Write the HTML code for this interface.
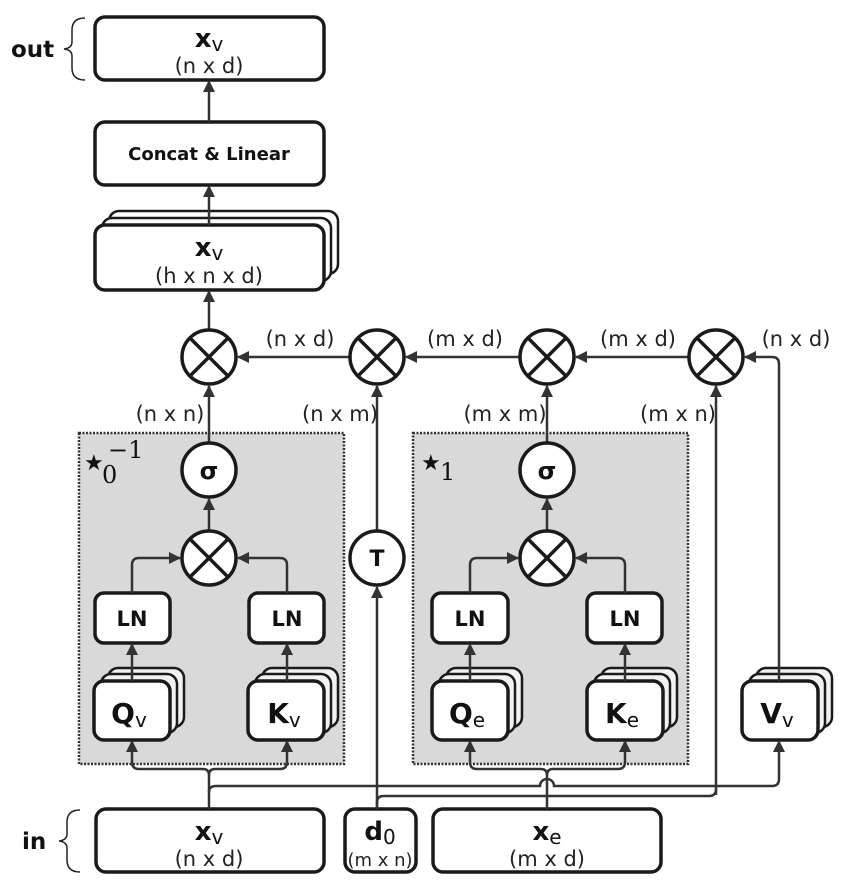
<!DOCTYPE html>
<html><head><meta charset="utf-8"><style>
html,body{margin:0;padding:0;background:#fff;}
svg{display:block;}
text{font-family:"DejaVu Sans","Liberation Sans",sans-serif;fill:#111;}
.b{font-weight:bold;}
.dim{fill:#222;}
.s{font-weight:normal;}
</style></head><body>
<svg width="847" height="887" viewBox="0 0 847 887" xmlns="http://www.w3.org/2000/svg">
<defs>
<marker id="a" markerWidth="12" markerHeight="12" refX="11" refY="6" orient="auto" markerUnits="userSpaceOnUse">
<path d="M0,0 L12,6 L0,12 Z" fill="#333"/>
</marker>
</defs>
<g fill="none" stroke="#1a1a1a" stroke-width="3.5">
<rect x="79" y="433" width="265" height="331" fill="#d9d9d9" stroke="#333" stroke-width="2.5" stroke-dasharray="2,1.5"/>
<rect x="413" y="433" width="275" height="331" fill="#d9d9d9" stroke="#333" stroke-width="2.5" stroke-dasharray="2,1.5"/>
<rect x="95" y="17" width="229" height="63" rx="10" fill="#fff"/>
<rect x="95" y="122" width="229" height="63" rx="10" fill="#fff"/>
<rect x="109" y="211" width="229" height="63" rx="10" fill="#fff" stroke-width="2.5"/>
<rect x="102" y="218" width="229" height="63" rx="10" fill="#fff" stroke-width="2.5"/>
<rect x="95" y="225" width="229" height="65" rx="10" fill="#fff"/>
<rect x="95" y="593" width="75" height="50" rx="9" fill="#fff"/>
<rect x="249" y="593" width="75" height="50" rx="9" fill="#fff"/>
<rect x="432" y="593" width="76" height="50" rx="9" fill="#fff"/>
<rect x="587" y="593" width="75" height="50" rx="9" fill="#fff"/>
<g id="st">
<rect x="108" y="668" width="76" height="59" rx="10" fill="#f2f2f2" stroke-width="2.5"/>
<rect x="101" y="674" width="76" height="59" rx="10" fill="#f2f2f2" stroke-width="2.5"/>
<rect x="94" y="681" width="76" height="59" rx="10" fill="#fff"/>
</g>
<use href="#st" x="154"/>
<use href="#st" x="338"/>
<use href="#st" x="493"/>
<use href="#st" x="648"/>
<rect x="96" y="809" width="228" height="63" rx="10" fill="#fff"/>
<rect x="345" y="809" width="71" height="63" rx="10" fill="#fff"/>
<rect x="433" y="809" width="228" height="63" rx="10" fill="#fff"/>
</g>
<g fill="none" stroke="#333" stroke-width="2.5">
<line x1="209" y1="122" x2="209" y2="81" marker-end="url(#a)"/>
<line x1="209" y1="225" x2="209" y2="186" marker-end="url(#a)"/>
<line x1="209" y1="329" x2="209" y2="291" marker-end="url(#a)"/>
<line x1="349" y1="357" x2="238" y2="357" marker-end="url(#a)"/>
<line x1="519" y1="357" x2="406" y2="357" marker-end="url(#a)"/>
<line x1="688" y1="357" x2="576" y2="357" marker-end="url(#a)"/>
<path d="M779 681 V364 Q779 357 772 357 H745" marker-end="url(#a)"/>
<line x1="209" y1="442" x2="209" y2="386" marker-end="url(#a)"/>
<line x1="547" y1="442" x2="547" y2="386" marker-end="url(#a)"/>
<line x1="377" y1="530" x2="377" y2="386" marker-end="url(#a)"/>
<line x1="716" y1="795" x2="716" y2="386" marker-end="url(#a)"/>
<line x1="209" y1="530" x2="209" y2="499" marker-end="url(#a)"/>
<line x1="547" y1="530" x2="547" y2="499" marker-end="url(#a)"/>
<path d="M132 593 V565 Q132 558 139 558 H180" marker-end="url(#a)"/>
<path d="M287 593 V565 Q287 558 280 558 H238" marker-end="url(#a)"/>
<path d="M470 593 V565 Q470 558 477 558 H518" marker-end="url(#a)"/>
<path d="M625 593 V565 Q625 558 618 558 H576" marker-end="url(#a)"/>
<line x1="132" y1="681" x2="132" y2="644" marker-end="url(#a)"/>
<line x1="287" y1="681" x2="287" y2="644" marker-end="url(#a)"/>
<line x1="470" y1="681" x2="470" y2="644" marker-end="url(#a)"/>
<line x1="625" y1="681" x2="625" y2="644" marker-end="url(#a)"/>
<path d="M209 809 V775"/>
<path d="M209 775 Q209 769 203 769 H139 Q132 769 132 762 V741" marker-end="url(#a)"/>
<path d="M209 775 Q209 769 215 769 H280 Q287 769 287 762 V741" marker-end="url(#a)"/>
<path d="M209 792 Q209 786 216 786 H540 A7 7 0 0 1 554 786 H772 Q779 786 779 779 V741" marker-end="url(#a)"/>
<path d="M377 809 V802 Q377 796 384 796 H709 Q716 796 716 789"/>
<line x1="377" y1="809" x2="377" y2="587" marker-end="url(#a)"/>
<path d="M547 809 V775"/>
<path d="M547 775 Q547 769 541 769 H477 Q470 769 470 762 V741" marker-end="url(#a)"/>
<path d="M547 775 Q547 769 553 769 H618 Q625 769 625 762 V741" marker-end="url(#a)"/>
</g>
<g fill="#fff" stroke="#1a1a1a" stroke-width="3.5">
<g id="ot"><circle cx="209" cy="357" r="27"/><path d="M190 338 L228 376 M228 338 L190 376" fill="none"/></g>
<use href="#ot" x="168"/>
<use href="#ot" x="338"/>
<use href="#ot" x="507"/>
<use href="#ot" y="201"/>
<use href="#ot" x="338" y="201"/>
<circle cx="209" cy="470" r="27"/>
<circle cx="547" cy="470" r="27"/>
<circle cx="377" cy="558" r="27"/>
</g>
<g text-anchor="middle">
<text x="209" y="47" class="b" style="font-size:26px">x<tspan class="s" style="font-size:20px" dy="4">v</tspan></text>
<text x="209" y="73" class="dim" style="font-size:21px">(n x d)</text>
<text x="209" y="160" class="b" style="font-size:18px">Concat &amp; Linear</text>
<text x="209" y="256" class="b" style="font-size:26px">x<tspan class="s" style="font-size:20px" dy="4">v</tspan></text>
<text x="209" y="283" class="dim" style="font-size:21px">(h x n x d)</text>
<text x="300" y="346" class="dim" style="font-size:21px">(n x d)</text>
<text x="465" y="346" class="dim" style="font-size:21px">(m x d)</text>
<text x="638" y="346" class="dim" style="font-size:21px">(m x d)</text>
<text x="796" y="346" class="dim" style="font-size:21px">(n x d)</text>
<text x="170" y="421" class="dim" style="font-size:21px">(n x n)</text>
<text x="340" y="421" class="dim" style="font-size:21px">(n x m)</text>
<text x="505" y="421" class="dim" style="font-size:21px">(m x m)</text>
<text x="678" y="421" class="dim" style="font-size:21px">(m x n)</text>
<text x="209" y="479" class="b" style="font-size:24px">σ</text>
<text x="547" y="479" class="b" style="font-size:24px">σ</text>
<text x="377" y="566" class="b" style="font-size:22px">T</text>
<text x="132" y="626" class="b" style="font-size:21px">LN</text>
<text x="287" y="626" class="b" style="font-size:21px">LN</text>
<text x="470" y="626" class="b" style="font-size:21px">LN</text>
<text x="625" y="626" class="b" style="font-size:21px">LN</text>
<text x="129" y="723" class="b" style="font-size:28px">Q<tspan class="s" style="font-size:20px" dy="4">v</tspan></text>
<text x="284" y="723" class="b" style="font-size:28px">K<tspan class="s" style="font-size:20px" dy="4">v</tspan></text>
<text x="467" y="723" class="b" style="font-size:28px">Q<tspan class="s" style="font-size:20px" dy="4">e</tspan></text>
<text x="622" y="723" class="b" style="font-size:28px">K<tspan class="s" style="font-size:20px" dy="4">e</tspan></text>
<text x="777" y="723" class="b" style="font-size:28px">V<tspan class="s" style="font-size:20px" dy="4">v</tspan></text>
<text x="209" y="840" class="b" style="font-size:26px">x<tspan class="s" style="font-size:20px" dy="4">v</tspan></text>
<text x="209" y="866" class="dim" style="font-size:21px">(n x d)</text>
<text x="380" y="840" class="b" style="font-size:26px">d<tspan class="s" style="font-size:20px" dy="4">0</tspan></text>
<text x="380" y="866" class="dim" style="font-size:18px">(m x n)</text>
<text x="547" y="840" class="b" style="font-size:26px">x<tspan class="s" style="font-size:20px" dy="4">e</tspan></text>
<text x="547" y="866" class="dim" style="font-size:21px">(m x d)</text>
</g>
<text x="84" y="470" style="font-size:22px;font-family:'DejaVu Sans',sans-serif">★</text>
<text x="102" y="483" style="font-size:24px;font-family:'DejaVu Serif',serif">0</text>
<text x="108" y="458" style="font-size:24px;font-family:'DejaVu Serif',serif">−1</text>
<text x="421" y="470" style="font-size:22px;font-family:'DejaVu Sans',sans-serif">★</text>
<text x="440" y="480" style="font-size:24px;font-family:'DejaVu Serif',serif">1</text>
<text x="11" y="57" class="b" style="font-size:23px">out</text>
<text x="22" y="849" class="b" style="font-size:23px">in</text>
<g fill="none" stroke="#222" stroke-width="1.5">
<path d="M85 18 Q72 18 72 30 V42 Q72 48 64 49 Q72 50 72 56 V68 Q72 80 85 80"/>
<path d="M80 810 Q67 810 67 822 V834 Q67 840 59 841 Q67 842 67 848 V860 Q67 872 80 872"/>
</g>
</svg>
</body></html>
